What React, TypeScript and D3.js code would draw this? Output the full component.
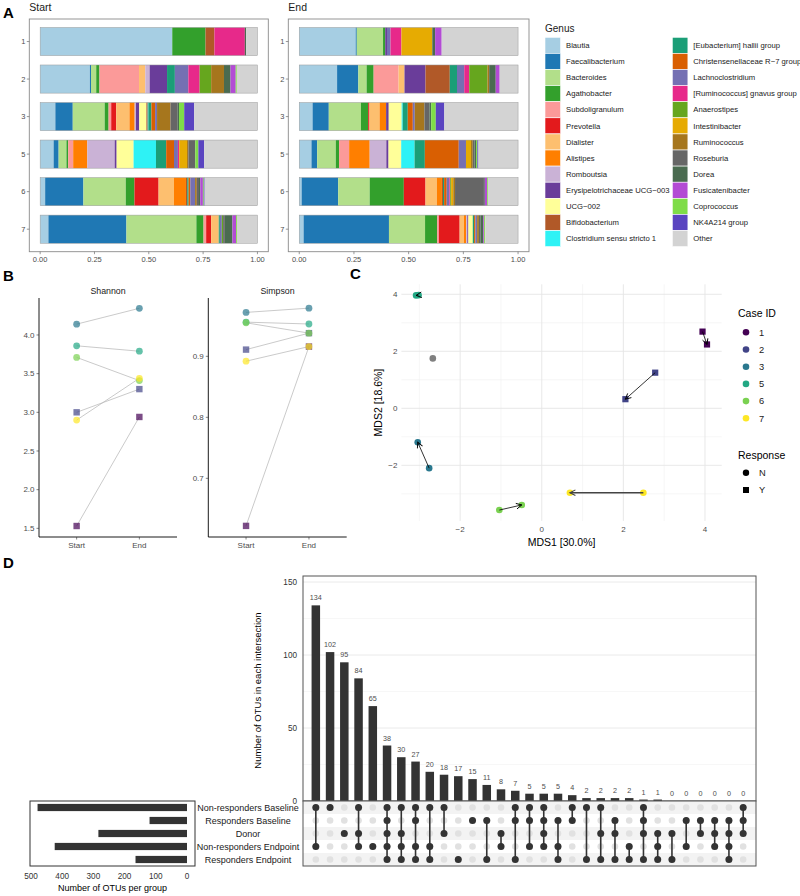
import React from 'react';
import * as d3 from 'd3';

const FONT = "'Liberation Sans', Arial, Helvetica, sans-serif";

// ---------------- Panel A data ----------------
const genera = [
  'Blautia', 'Faecalibacterium', 'Bacteroides', 'Agathobacter', 'Subdoligranulum', 'Prevotella',
  'Dialister', 'Alistipes', 'Romboutsia', 'Erysipelotrichaceae UCG−003', 'UCG−002', 'Bifidobacterium',
  'Clostridium sensu stricto 1', '[Eubacterium] hallii group', 'Christensenellaceae R−7 group',
  'Lachnoclostridium', '[Ruminococcus] gnavus group', 'Anaerostipes', 'Intestinibacter', 'Ruminococcus',
  'Roseburia', 'Dorea', 'Fusicatenibacter', 'Coprococcus', 'NK4A214 group', 'Other',
];
const genusColors = [
  '#a6cee3', '#1f78b4', '#b2df8a', '#33a02c', '#fb9a99', '#e31a1c',
  '#fdbf6f', '#ff7f00', '#cab2d6', '#6a3d9a', '#ffff99', '#b15928',
  '#2ef2f5', '#1b9e77', '#d95f02', '#7570b3', '#e7298a', '#66a61e',
  '#e6ab02', '#a6761d', '#666666', '#4a6b50', '#b34bd4', '#7fdc48', '#5a44c0', '#d3d3d3',
];
const sampleIds = ['1', '2', '3', '5', '6', '7'];
const startAbundance = [
  [.608, 0, 0, .153, 0, 0, 0, 0, 0, 0, 0, .041, 0, 0, 0, 0, .14, 0, 0, 0, 0, .006, 0, 0, 0, .052],
  [.229, .005, .024, .015, .182, 0, .029, 0, .02, .08, 0, 0, 0, .036, 0, .062, .052, .053, 0, .059, 0, .03, .024, .005, 0, .095],
  [.07, .08, .147, .018, .012, .023, .061, .024, .006, .015, .033, .006, .003, .014, .017, .009, 0, 0, 0, .062, .033, .006, 0, .024, .046, .291],
  [.062, .023, .036, .008, .023, 0, 0, .065, .126, .009, .078, 0, .103, .047, .036, .018, .006, 0, .036, .006, .032, 0, 0, .014, .027, .245],
  [.023, .176, .195, .04, 0, .111, .071, .055, 0, 0, 0, .006, 0, .006, .008, .022, 0, 0, 0, .008, .01, .006, .012, .004, .004, .243],
  [.038, .359, .322, .033, .012, .023, .035, 0, 0, 0, 0, 0, 0, .005, 0, .009, 0, .006, 0, 0, .008, .035, .017, .004, 0, .094],
];
const endAbundance = [
  [.258, .005, .12, .01, 0, 0, 0, 0, 0, .008, 0, 0, 0, 0, 0, .016, .05, 0, .141, 0, 0, .013, .03, 0, 0, .349],
  [.173, .097, .038, .032, .114, 0, .027, 0, 0, .096, 0, .111, 0, .033, 0, .033, .023, .083, 0, .008, 0, .03, .018, 0, 0, .084],
  [.061, .074, .147, .033, 0, .006, .046, .03, 0, .012, .059, 0, .005, .023, .023, .009, 0, 0, 0, .044, .023, .008, 0, .021, .039, .337],
  [.056, .026, .085, .015, .046, 0, 0, .094, .076, .01, .058, 0, .061, .047, .155, .033, 0, 0, .023, .008, .008, .007, 0, .006, .005, .181],
  [.011, .167, .144, .156, 0, .099, .052, .023, 0, 0, 0, .005, 0, .005, .012, .012, .004, .004, .01, .008, .132, .004, .01, .004, 0, .138],
  [.02, .39, .165, .055, .008, .095, .02, .01, .005, .005, .02, 0, 0, .006, .006, .008, 0, 0, 0, .008, .008, .012, .004, .005, 0, .15],
];
const xTicksA = [0, 0.25, 0.5, 0.75, 1];

// ---------------- Panel B data ----------------
const caseIds = ['1', '2', '3', '5', '6', '7'];
const caseColors = ['#440154', '#414487', '#2A788E', '#22A884', '#7AD151', '#FDE725'];
const caseResponse = ['Y', 'Y', 'N', 'N', 'N', 'N'];
const timepoints = ['Start', 'End'];
const shannonStart = [1.53, 3.0, 4.14, 3.86, 3.71, 2.9];
const shannonEnd = [2.94, 3.3, 4.345, 3.79, 3.41, 3.44];
const simpsonStart = [0.622, 0.911, 0.972, 0.956, 0.955, 0.892];
const simpsonEnd = [0.916, 0.938, 0.979, 0.953, 0.938, 0.916];
const shannonTicks = [1.5, 2.0, 2.5, 3.0, 3.5, 4.0];
const simpsonTicks = [0.7, 0.8, 0.9];

// ---------------- Panel C data ----------------
const mds1Start = [3.94, 2.78, -2.76, -3.02, -1.04, 2.49];
const mds2Start = [2.69, 1.25, -2.1, 3.97, -3.57, -2.96];
const mds1End = [4.05, 2.05, -3.04, -3.08, -0.49, 0.69];
const mds2End = [2.24, 0.32, -1.19, 3.96, -3.39, -2.96];
const donorMds = [-2.67, 1.75];
const mdsTicks = [-2, 0, 2, 4];
const mdsMinorX = [-3, -1, 1, 3];
const mdsMinorY = [-3, -1, 1, 3];
const responseLevels = ['N', 'Y'];

// ---------------- Panel D data ----------------
const setNames = ['Non-responders Baseline', 'Responders Baseline', 'Donor', 'Non-responders Endpoint', 'Responders Endpoint'];
const setSizes = [479, 120, 284, 424, 165];
const intersectionSizes = [134, 102, 95, 84, 65, 38, 30, 27, 20, 18, 17, 15, 11, 8, 7, 5, 5, 5, 4, 2, 2, 2, 2, 1, 1, 0, 0, 0, 0, 0, 0];
const intersectionMembers = [
  [0, 3], [0], [2], [0, 2, 3], [3], [0, 1, 2, 3, 4], [0, 2, 3, 4], [0, 1, 3, 4], [0, 3, 4], [0, 2],
  [4], [1], [1, 4], [2, 3], [0, 1, 4], [0, 1, 3], [0, 1, 2, 3], [1, 3, 4], [0, 1], [0, 4],
  [0, 2, 4], [1, 2, 4], [3, 4], [0, 1, 2, 4], [2, 3, 4], [2, 4], [1, 3], [1, 2], [1, 2, 3], [1, 2, 3, 4], [0, 1, 2],
];
const intersectTicks = [0, 50, 100, 150];
const intersectMinor = [25, 75, 125];
const setSizeTicks = [500, 400, 300, 200, 100, 0];

const fmtMinus = (v: number) => (v < 0 ? '−' : '') + Math.abs(v);

function Marker({ shape, x, y, r, fill, opacity = 1 }: any) {
  if (shape === 'Y') {
    return <rect x={x - r} y={y - r} width={2 * r} height={2 * r} fill={fill} fillOpacity={opacity} />;
  }
  return <circle cx={x} cy={y} r={r} fill={fill} fillOpacity={opacity} />;
}

function PanelA() {
  const panels = [
    { title: 'Start', data: startAbundance, x0: 29.3, x1: 268.3 },
    { title: 'End', data: endAbundance, x0: 288.3, x1: 529 },
  ];
  const top = 19, bottom = 251.7;
  const legendRows = 13;
  const rowH = 16.1;
  return (
    <g>
      <text x={3} y={18} fontSize={15} fontWeight="bold">A</text>
      {panels.map((p) => {
        const x = d3.scaleLinear().domain([-0.05, 1.05]).range([p.x0, p.x1]);
        const y = d3.scalePoint<string>().domain(sampleIds).range([top, bottom]).padding(0.6);
        const bh = y.step() * 0.75;
        const rows = p.data.map((vals) => {
          const o: any = {};
          genera.forEach((g, j) => { o[g] = vals[j]; });
          return o;
        });
        const series = d3.stack<any>().keys(genera)(rows);
        return (
          <g key={p.title}>
            <text x={p.x0} y={10.5} fontSize={10.5} fill="#1a1a1a">{p.title}</text>
            <rect x={p.x0} y={top} width={p.x1 - p.x0} height={bottom - top} fill="#fff" stroke="#8a8a8a" strokeWidth={0.9} />
            {series.map((s, j) => s.map((d, i) => (
              <rect key={j + '-' + i} x={x(d[0])} y={(y(sampleIds[i]) as number) - bh / 2}
                width={Math.max(0, x(d[1]) - x(d[0]))} height={bh} fill={genusColors[j]} />
            )))}
            {sampleIds.map((s) => (
              <rect key={'o' + s} x={x(0)} y={(y(s) as number) - bh / 2} width={x(1) - x(0)} height={bh}
                fill="none" stroke="#9a9a9a" strokeWidth={0.5} />
            ))}
            {sampleIds.map((s) => (
              <g key={'yt' + s}>
                <line x1={p.x0 - 2.5} x2={p.x0} y1={y(s)} y2={y(s)} stroke="#555" strokeWidth={0.6} />
                <text x={p.x0 - 4} y={(y(s) as number) + 2.6} fontSize={7.5} textAnchor="end" fill="#4d4d4d">{s}</text>
              </g>
            ))}
            {xTicksA.map((t) => (
              <g key={'xt' + t}>
                <line x1={x(t)} x2={x(t)} y1={bottom} y2={bottom + 2.5} stroke="#555" strokeWidth={0.6} />
                <text x={x(t)} y={bottom + 10.5} fontSize={7.5} textAnchor="middle" fill="#4d4d4d">{t.toFixed(2)}</text>
              </g>
            ))}
          </g>
        );
      })}
      <text x={545} y={32} fontSize={10} fill="#1a1a1a">Genus</text>
      {genera.map((g, i) => {
        const col = Math.floor(i / legendRows);
        const row = i % legendRows;
        const sx = col === 0 ? 545 : 672.3;
        const sy = 37.3 + row * rowH;
        return (
          <g key={g}>
            <rect x={sx} y={sy} width={15.6} height={rowH} fill={genusColors[i]} stroke="#ffffff" strokeWidth={0.6} />
            <text x={sx + 21} y={sy + rowH / 2 + 2.7} fontSize={7.7} fill="#1a1a1a">{g}</text>
          </g>
        );
      })}
    </g>
  );
}

function PanelB() {
  const top = 298, bottom = 537;
  const facets = [
    { title: 'Shannon', x0: 39, x1: 177, domain: [1.388, 4.478], ticks: shannonTicks, start: shannonStart, end: shannonEnd, fmt: (v: number) => v.toFixed(1) },
    { title: 'Simpson', x0: 208.3, x1: 346.7, domain: [0.6038, 0.9956], ticks: simpsonTicks, start: simpsonStart, end: simpsonEnd, fmt: (v: number) => v.toFixed(1) },
  ];
  return (
    <g>
      <text x={3} y={281} fontSize={15} fontWeight="bold">B</text>
      {facets.map((f) => {
        const x = d3.scalePoint<string>().domain(timepoints).range([f.x0, f.x1]).padding(0.6);
        const y = d3.scaleLinear().domain(f.domain).range([bottom, top]);
        return (
          <g key={f.title}>
            <text x={(f.x0 + f.x1) / 2} y={293.5} fontSize={8.8} textAnchor="middle" fill="#1a1a1a">{f.title}</text>
            <line x1={f.x0} x2={f.x0} y1={top} y2={bottom} stroke="#000" strokeWidth={0.9} />
            <line x1={f.x0} x2={f.x1} y1={bottom} y2={bottom} stroke="#000" strokeWidth={0.9} />
            {f.ticks.map((t) => (
              <g key={t}>
                <line x1={f.x0 - 2.5} x2={f.x0} y1={y(t)} y2={y(t)} stroke="#333" strokeWidth={0.6} />
                <text x={f.x0 - 4.5} y={y(t) + 2.8} fontSize={8} textAnchor="end" fill="#4d4d4d">{f.fmt(t)}</text>
              </g>
            ))}
            {timepoints.map((tp) => (
              <g key={tp}>
                <line x1={x(tp)} x2={x(tp)} y1={bottom} y2={bottom + 2.5} stroke="#333" strokeWidth={0.6} />
                <text x={x(tp)} y={bottom + 11} fontSize={8} textAnchor="middle" fill="#4d4d4d">{tp}</text>
              </g>
            ))}
            {caseIds.map((c, i) => (
              <line key={'l' + c} x1={x('Start')} x2={x('End')} y1={y(f.start[i])} y2={y(f.end[i])} stroke="#bdbdbd" strokeWidth={0.8} />
            ))}
            {caseIds.map((c, i) => (
              <g key={'p' + c}>
                <Marker shape={caseResponse[i]} x={x('Start')} y={y(f.start[i])} r={caseResponse[i] === 'Y' ? 3.2 : 3.4} fill={caseColors[i]} opacity={0.7} />
                <Marker shape={caseResponse[i]} x={x('End')} y={y(f.end[i])} r={caseResponse[i] === 'Y' ? 3.2 : 3.4} fill={caseColors[i]} opacity={0.7} />
              </g>
            ))}
          </g>
        );
      })}
    </g>
  );
}

function PanelC() {
  const x0 = 401.4, x1 = 721.7, y0 = 284.3, y1 = 520.9;
  const x = d3.scaleLinear().domain([-3.44, 4.41]).range([x0, x1]);
  const y = d3.scaleLinear().domain([-3.95, 4.35]).range([y1, y0]);
  return (
    <g>
      <defs>
        <marker id="arrC" markerWidth={8} markerHeight={8} refX={6.5} refY={4} orient="auto" markerUnits="userSpaceOnUse">
          <path d="M1,1.2 L6.5,4 L1,6.8" fill="none" stroke="#000" strokeWidth={0.9} />
        </marker>
        <marker id="arrC7" markerWidth={8} markerHeight={8} refX={6.5} refY={4} orient="auto" markerUnits="userSpaceOnUse">
          <path d="M1,1.2 L6.5,4 L1,6.8" fill="none" stroke="#444" strokeWidth={1.1} />
        </marker>
      </defs>
      <text x={350} y={279} fontSize={15} fontWeight="bold">C</text>
      {mdsMinorX.map((t) => <line key={'mx' + t} x1={x(t)} x2={x(t)} y1={y0} y2={y1} stroke="#f0f0f0" strokeWidth={0.6} />)}
      {mdsMinorY.map((t) => <line key={'my' + t} x1={x0} x2={x1} y1={y(t)} y2={y(t)} stroke="#f0f0f0" strokeWidth={0.6} />)}
      {mdsTicks.map((t) => <line key={'gx' + t} x1={x(t)} x2={x(t)} y1={y0} y2={y1} stroke="#e5e5e5" strokeWidth={0.9} />)}
      {mdsTicks.map((t) => <line key={'gy' + t} x1={x0} x2={x1} y1={y(t)} y2={y(t)} stroke="#e5e5e5" strokeWidth={0.9} />)}
      {mdsTicks.map((t) => (
        <text key={'tx' + t} x={x(t)} y={y1 + 11.5} fontSize={8} textAnchor="middle" fill="#4d4d4d">{fmtMinus(t)}</text>
      ))}
      {mdsTicks.map((t) => (
        <text key={'ty' + t} x={x0 - 4} y={y(t) + 2.8} fontSize={8} textAnchor="end" fill="#4d4d4d">{fmtMinus(t)}</text>
      ))}
      <text x={(x0 + x1) / 2} y={546} fontSize={10.5} textAnchor="middle" fill="#000">MDS1 [30.0%]</text>
      <text transform={`translate(382,${(y0 + y1) / 2}) rotate(-90)`} fontSize={10.5} textAnchor="middle" fill="#000">MDS2 [18.6%]</text>
      <circle cx={x(donorMds[0])} cy={y(donorMds[1])} r={3.3} fill="#808080" />
      {caseIds.map((c, i) => (
        <g key={'pt' + c}>
          <Marker shape={caseResponse[i]} x={x(mds1Start[i])} y={y(mds2Start[i])} r={caseResponse[i] === 'Y' ? 3.1 : 3.3} fill={caseColors[i]} />
          <Marker shape={caseResponse[i]} x={x(mds1End[i])} y={y(mds2End[i])} r={caseResponse[i] === 'Y' ? 3.1 : 3.3} fill={caseColors[i]} />
        </g>
      ))}
      {caseIds.map((c, i) => (
        <line key={'ar' + c} x1={x(mds1Start[i])} y1={y(mds2Start[i])} x2={x(mds1End[i])} y2={y(mds2End[i])}
          stroke={c === '7' ? '#444' : '#000'} strokeWidth={c === '7' ? 1.5 : 0.8} markerEnd={c === '7' ? 'url(#arrC7)' : 'url(#arrC)'} />
      ))}
      <text x={738} y={317} fontSize={10.5} fill="#000">Case ID</text>
      {caseIds.map((c, i) => (
        <g key={'lg' + c}>
          <circle cx={746} cy={332.3 + i * 17.2} r={3.3} fill={caseColors[i]} />
          <text x={759} y={332.3 + i * 17.2 + 3.3} fontSize={9.3} fill="#1a1a1a">{c}</text>
        </g>
      ))}
      <text x={738} y={458.5} fontSize={10.5} fill="#000">Response</text>
      {responseLevels.map((r, i) => (
        <g key={'rs' + r}>
          <Marker shape={r} x={746} y={472.7 + i * 17.3} r={r === 'Y' ? 3 : 3.2} fill="#000" />
          <text x={759} y={472.7 + i * 17.3 + 3.3} fontSize={9.3} fill="#1a1a1a">{r}</text>
        </g>
      ))}
    </g>
  );
}

function PanelD() {
  const bx0 = 303, bx1 = 756, by0 = 576, by1 = 801;
  const my1 = 866;
  const cols = intersectionSizes.map((_, i) => String(i));
  const x = d3.scalePoint<string>().domain(cols).range([bx0, bx1]).padding(0.9);
  const y = d3.scaleLinear().domain([0, 150]).range([801, 582]);
  const rowY = d3.scalePoint<string>().domain(setNames).range([by1, my1]).padding(0.5);
  const rowStep = rowY.step();
  const sx = d3.scaleLinear().domain([0, 500]).range([187, 31]);
  const barW = 8.5;
  return (
    <g>
      <text x={3} y={568} fontSize={15} fontWeight="bold">D</text>
      {/* top intersection bars */}
      <rect x={bx0} y={by0} width={bx1 - bx0} height={by1 - by0} fill="#fff" />
      {intersectMinor.map((t) => <line key={'mi' + t} x1={bx0} x2={bx1} y1={y(t)} y2={y(t)} stroke="#f2f2f2" strokeWidth={0.6} />)}
      {intersectTicks.map((t) => <line key={'ma' + t} x1={bx0} x2={bx1} y1={y(t)} y2={y(t)} stroke="#e8e8e8" strokeWidth={0.9} />)}
      {intersectionSizes.map((v, i) => (
        <g key={'ib' + i}>
          <rect x={(x(String(i)) as number) - barW / 2} y={y(v)} width={barW} height={y(0) - y(v)} fill="#333333" />
          <text x={x(String(i))} y={y(v) - 5} fontSize={7.2} textAnchor="middle" fill="#4d4d4d">{v}</text>
        </g>
      ))}
      <rect x={bx0} y={by0} width={bx1 - bx0} height={by1 - by0} fill="none" stroke="#555" strokeWidth={1} />
      {intersectTicks.map((t) => (
        <text key={'it' + t} x={297} y={y(t) + 3} fontSize={8.2} textAnchor="end" fill="#333">{t}</text>
      ))}
      <text transform={`translate(261,${(by0 + by1) / 2 + 2}) rotate(-90)`} fontSize={9.5} textAnchor="middle" fill="#000">Number of OTUs in each intersection</text>
      {/* matrix */}
      {setNames.map((s, r) => (
        r % 2 === 0 ? <rect key={'st' + r} x={bx0} y={(rowY(s) as number) - rowStep / 2} width={bx1 - bx0} height={rowStep} fill="#f3f3f3" /> : null
      ))}
      {intersectionSizes.map((_, i) => setNames.map((s, r) => (
        <circle key={'gd' + i + '-' + r} cx={x(String(i))} cy={rowY(s)} r={3.3} fill="#e1e1e1" />
      )))}
      {intersectionMembers.map((m, i) => {
        const ys = m.map((r) => rowY(setNames[r]) as number);
        return (
          <g key={'mm' + i}>
            <line x1={x(String(i))} x2={x(String(i))} y1={d3.min(ys)} y2={d3.max(ys)} stroke="#333" strokeWidth={1.6} />
            {ys.map((yy, k) => <circle key={k} cx={x(String(i))} cy={yy} r={3.5} fill="#333" />)}
          </g>
        );
      })}
      <rect x={bx0} y={by1} width={bx1 - bx0} height={my1 - by1} fill="none" stroke="#555" strokeWidth={1} />
      {setNames.map((s) => (
        <text key={'sn' + s} x={248} y={(rowY(s) as number) + 3.2} fontSize={9} textAnchor="middle" fill="#1a1a1a">{s}</text>
      ))}
      {/* set sizes */}
      {setNames.map((s, r) => (
        <rect key={'ss' + s} x={sx(setSizes[r])} y={(rowY(s) as number) - 3.6} width={sx(0) - sx(setSizes[r])} height={7.2} fill="#333" />
      ))}
      <rect x={30} y={by1} width={195 - 30} height={my1 - by1} fill="none" stroke="#333" strokeWidth={1} />
      {setSizeTicks.map((t) => (
        <text key={'sst' + t} x={sx(t)} y={879} fontSize={8.2} textAnchor="middle" fill="#333">{t}</text>
      ))}
      <text x={112.5} y={891} fontSize={9} textAnchor="middle" fill="#000">Number of OTUs per group</text>
    </g>
  );
}

export default function App() {
  return (
    <svg width={800} height={896} style={{ position: 'absolute', left: 0, top: 0, background: '#fff' }} fontFamily={FONT}>
      <rect x={0} y={0} width={800} height={896} fill="#fff" />
      <PanelA />
      <PanelB />
      <PanelC />
      <PanelD />
    </svg>
  );
}
